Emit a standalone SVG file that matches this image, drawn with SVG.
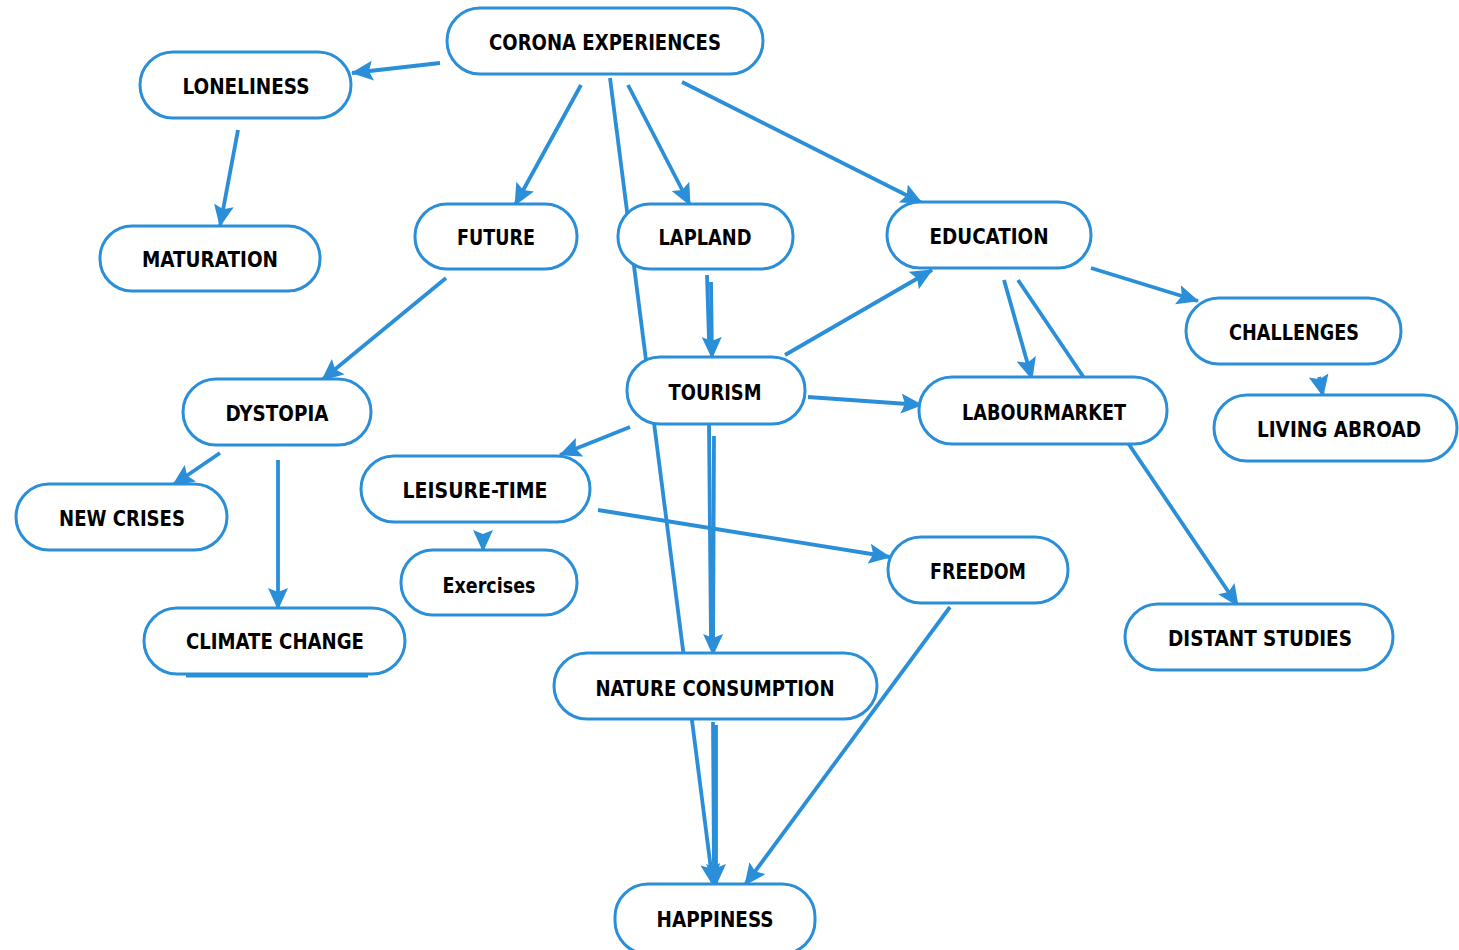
<svg xmlns="http://www.w3.org/2000/svg" width="1459" height="950" viewBox="0 0 1459 950">
<style>
.n rect{fill:#fff;stroke:#2a8fd8;stroke-width:3}
.n text{font-family:"DejaVu Sans Condensed","DejaVu Sans",sans-serif;font-weight:bold;font-size:22px;fill:#000;text-anchor:middle}
.c line{stroke:#2a8fd8;stroke-width:3.8;fill:none}
.c .a{marker-end:url(#ah)}
</style>
<defs>
<marker id="ah" markerUnits="userSpaceOnUse" markerWidth="24" markerHeight="20" refX="21" refY="10" orient="auto">
<path d="M0,0 L22,10 L0,20 L4,10 Z" fill="#2a8fd8"/>
</marker>
</defs>
<rect width="1459" height="950" fill="#fff"/>
<g id="connectors" class="c">
<line class="a" x1="440" y1="63" x2="352" y2="73"/>
<line class="a" x1="581" y1="85" x2="515" y2="205"/>
<line class="a" x1="628" y1="85" x2="690" y2="205"/>
<line class="a" x1="682" y1="82" x2="922" y2="203"/>
<line class="a" x1="610" y1="78" x2="713" y2="885"/>
<line class="a" x1="238" y1="130" x2="220" y2="226"/>
<line class="a" x1="446" y1="278" x2="322" y2="380"/>
<line class="a" x1="220" y1="453" x2="173" y2="485"/>
<line class="a" x1="278" y1="460" x2="278" y2="609"/>
<line x1="707" y1="275" x2="709" y2="340"/>
<line class="a" x1="711" y1="282" x2="712" y2="358"/>
<line class="a" x1="785" y1="355" x2="932" y2="270"/>
<line class="a" x1="808" y1="397" x2="922" y2="405"/>
<line class="a" x1="630" y1="427" x2="560" y2="455"/>
<line class="a" x1="483" y1="535" x2="483" y2="551"/>
<line class="a" x1="598" y1="510" x2="890" y2="557"/>
<line x1="709" y1="425" x2="711" y2="640"/>
<line class="a" x1="714" y1="436" x2="713" y2="655"/>
<line class="a" x1="1004" y1="280" x2="1032" y2="379"/>
<line class="a" x1="1018" y1="280" x2="1238" y2="606"/>
<line class="a" x1="1091" y1="268" x2="1198" y2="301"/>
<line class="a" x1="1319" y1="377" x2="1323" y2="396"/>
<line x1="713" y1="722" x2="714" y2="870"/>
<line class="a" x1="716" y1="725" x2="716" y2="885"/>
<line class="a" x1="950" y1="607" x2="745" y2="885"/>
</g>
<g id="corona" class="n"><rect x="447" y="8" width="316" height="66" rx="33"/><text x="605" y="50" textLength="232" lengthAdjust="spacingAndGlyphs">CORONA EXPERIENCES</text></g>
<g id="loneliness" class="n"><rect x="140" y="52" width="211" height="66" rx="33"/><text x="246" y="94" textLength="127" lengthAdjust="spacingAndGlyphs">LONELINESS</text></g>
<g id="maturation" class="n"><rect x="100" y="226" width="220" height="65" rx="32"/><text x="210" y="267" textLength="136" lengthAdjust="spacingAndGlyphs">MATURATION</text></g>
<g id="future" class="n"><rect x="415" y="204" width="162" height="65" rx="32"/><text x="496" y="245" textLength="78" lengthAdjust="spacingAndGlyphs">FUTURE</text></g>
<g id="lapland" class="n"><rect x="618" y="204" width="175" height="65" rx="32"/><text x="705" y="245" textLength="93" lengthAdjust="spacingAndGlyphs">LAPLAND</text></g>
<g id="education" class="n"><rect x="887" y="202" width="204" height="66" rx="33"/><text x="989" y="244" textLength="119" lengthAdjust="spacingAndGlyphs">EDUCATION</text></g>
<g id="challenges" class="n"><rect x="1186" y="298" width="215" height="66" rx="33"/><text x="1294" y="340" textLength="130" lengthAdjust="spacingAndGlyphs">CHALLENGES</text></g>
<g id="livingabroad" class="n"><rect x="1214" y="395" width="243" height="66" rx="33"/><text x="1339" y="437" textLength="164" lengthAdjust="spacingAndGlyphs">LIVING ABROAD</text></g>
<g id="tourism" class="n"><rect x="627" y="357" width="178" height="67" rx="33"/><text x="715" y="400" textLength="93" lengthAdjust="spacingAndGlyphs">TOURISM</text></g>
<g id="labourmarket" class="n"><rect x="919" y="377" width="248" height="67" rx="33"/><text x="1044" y="420" textLength="164" lengthAdjust="spacingAndGlyphs">LABOURMARKET</text></g>
<g id="dystopia" class="n"><rect x="183" y="379" width="188" height="66" rx="33"/><text x="277" y="421" textLength="103" lengthAdjust="spacingAndGlyphs">DYSTOPIA</text></g>
<g id="newcrises" class="n"><rect x="16" y="484" width="211" height="66" rx="33"/><text x="122" y="526" textLength="126" lengthAdjust="spacingAndGlyphs">NEW CRISES</text></g>
<g id="leisuretime" class="n"><rect x="361" y="456" width="229" height="66" rx="33"/><text x="475" y="498" textLength="145" lengthAdjust="spacingAndGlyphs">LEISURE-TIME</text></g>
<g id="exercises" class="n"><rect x="401" y="550" width="176" height="65" rx="32"/><text x="489" y="593" textLength="93" lengthAdjust="spacingAndGlyphs">Exercises</text></g>
<g id="freedom" class="n"><rect x="888" y="537" width="180" height="66" rx="33"/><text x="978" y="579" textLength="96" lengthAdjust="spacingAndGlyphs">FREEDOM</text></g>
<g id="distantstudies" class="n"><rect x="1125" y="604" width="268" height="66" rx="33"/><text x="1260" y="646" textLength="184" lengthAdjust="spacingAndGlyphs">DISTANT STUDIES</text></g>
<g id="climatechange" class="n"><rect x="144" y="608" width="261" height="66" rx="33"/><line x1="186" y1="676" x2="368" y2="676" stroke="#2a8fd8" stroke-width="3"/><text x="275" y="649" textLength="178" lengthAdjust="spacingAndGlyphs">CLIMATE CHANGE</text></g>
<g id="natureconsumption" class="n"><rect x="554" y="653" width="323" height="66" rx="33"/><text x="715" y="696" textLength="239" lengthAdjust="spacingAndGlyphs">NATURE CONSUMPTION</text></g>
<g id="happiness" class="n"><rect x="615" y="884" width="200" height="70" rx="33"/><text x="715" y="927" textLength="117" lengthAdjust="spacingAndGlyphs">HAPPINESS</text></g>
</svg>
